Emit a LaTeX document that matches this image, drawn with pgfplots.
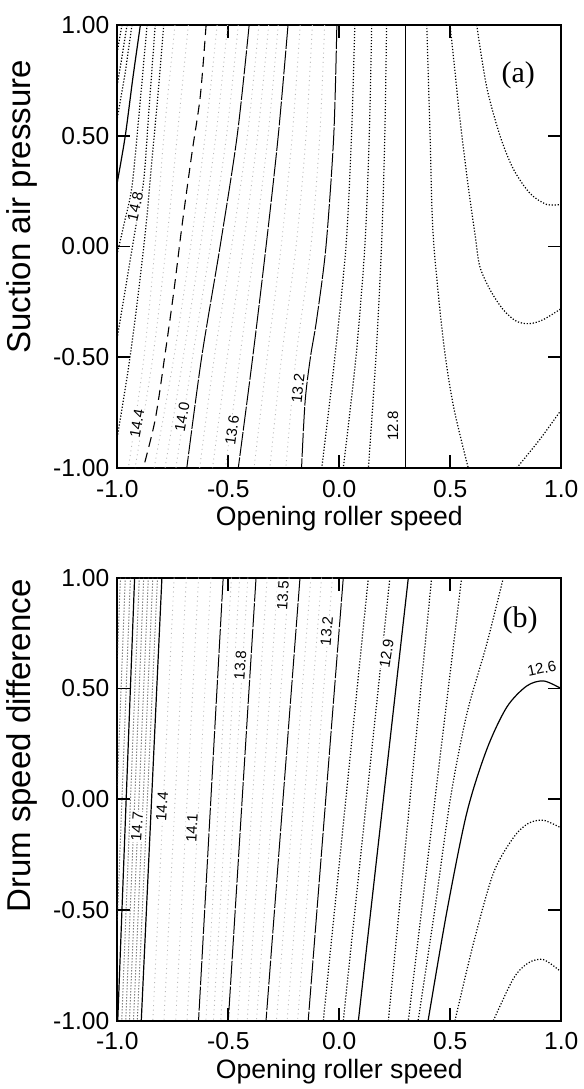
\documentclass[border=0pt]{standalone}
\usepackage{fontspec}
\setmainfont{Liberation Sans}
\newfontfamily\timesfont{Liberation Serif}
\usepackage{pgfplots}
\pgfplotsset{compat=1.18}

\tikzset{
  main/.style={black, line width=0.6pt},
  dmain/.style={black, line width=0.5pt, dash pattern=on 12pt off 0.8pt},
  ldash/.style={black, line width=0.55pt, dash pattern=on 5pt off 3pt},
  minor/.style={black, line width=0.6pt, dash pattern=on 0.6pt off 0.9pt},
  lminor/.style={black!75, line width=0.5pt, dash pattern=on 0.5pt off 1pt},
  faint/.style={gray!55, line width=0.45pt, dash pattern=on 0.5pt off 1.8pt},
  clab/.style={font=\fontsize{7.5}{8}\selectfont, fill=white, inner sep=0.4pt},
}
\pgfplotsset{
  panel/.style={
    scale only axis, width=222pt, height=221.5pt,
    xmin=-1, xmax=1, ymin=-1, ymax=1,
    xtick={-1,-0.5,0,0.5,1}, xticklabels={-1.0,-0.5,0.0,0.5,1.0},
    ytick={-1,-0.5,0,0.5,1}, yticklabels={-1.00,-0.50,0.00,0.50,1.00},
    tick align=inside, major tick length=6.5pt,
    tick style={black, line width=0.9pt},
    axis line style={line width=0.9pt},
    ticklabel style={font=\fontsize{12.3}{14}\selectfont},
    xticklabel style={yshift=-2.5pt},
    yticklabel style={xshift=-0.5pt},
    xlabel={Opening roller speed},
    xlabel style={font=\fontsize{13.3}{15}\selectfont, at={(axis description cs:0.5,0)}, anchor=center, yshift=-25.5pt},
    ylabel style={font=\fontsize{16.5}{18}\selectfont, anchor=center},
    clip=true,
  },
}

\begin{document}
\begin{tikzpicture}
\useasboundingbox (-58.65pt,12.5pt) rectangle (233.35pt,-532pt);

% ---------- (a) ----------
\begin{axis}[panel, at={(0pt,0pt)}, anchor=north west,
  ylabel={Suction air pressure},
  ylabel style={at={(axis description cs:-0.215,0.59)}}]
% top-left group
\addplot[minor] coordinates {(-0.979,1) (-1,0.88)};
\addplot[minor] coordinates {(-0.956,1) (-0.98,0.85) (-1,0.73)};
\addplot[minor] coordinates {(-0.934,1) (-0.965,0.78) (-1,0.58)};
\addplot[main, smooth] coordinates {(-0.896,1) (-0.93,0.76) (-0.964,0.50) (-1,0.29)};
\addplot[minor, smooth] coordinates {(-0.866,1) (-0.90,0.62) (-0.934,0.27) (-0.97,0.10) (-1,-0.03)};
\addplot[minor, smooth] coordinates {(-0.829,1) (-0.855,0.65) (-0.881,0.30) (-0.915,0.10) (-0.945,-0.08) (-0.975,-0.26) (-1,-0.41)};
\addplot[minor, smooth] coordinates {(-0.791,1) (-0.82,0.65) (-0.844,0.39) (-0.87,0.10) (-0.91,-0.25) (-0.95,-0.55) (-1,-0.86)};
\addplot[faint, smooth] coordinates {(-0.74,1) (-0.79,0.5) (-0.83,0.0) (-0.88,-0.5) (-0.95,-1)};
\addplot[faint, smooth] coordinates {(-0.68,1) (-0.73,0.5) (-0.78,0.0) (-0.84,-0.5) (-0.92,-1)};
% 14.4
\addplot[ldash, smooth] coordinates {(-0.600,1) (-0.626,0.68) (-0.664,0.42) (-0.709,0.09) (-0.745,-0.20) (-0.784,-0.48) (-0.829,-0.78) (-0.883,-1)};
\addplot[faint, smooth] coordinates {(-0.550,1) (-0.604,0.5) (-0.670,0) (-0.745,-0.5) (-0.834,-1)};
\addplot[faint, smooth] coordinates {(-0.503,1) (-0.556,0.5) (-0.626,0) (-0.703,-0.5) (-0.785,-1)};
\addplot[faint, smooth] coordinates {(-0.455,1) (-0.508,0.5) (-0.581,0) (-0.661,-0.5) (-0.736,-1)};
% 14.0
\addplot[dmain, smooth] coordinates {(-0.406,1) (-0.46,0.5) (-0.537,0) (-0.62,-0.5) (-0.687,-1)};
\addplot[faint, smooth] coordinates {(-0.362,1) (-0.414,0.5) (-0.485,0) (-0.563,-0.5) (-0.629,-1)};
\addplot[faint, smooth] coordinates {(-0.318,1) (-0.368,0.5) (-0.433,0) (-0.505,-0.5) (-0.571,-1)};
\addplot[faint, smooth] coordinates {(-0.275,1) (-0.321,0.5) (-0.382,0) (-0.448,-0.5) (-0.513,-1)};
% 13.6
\addplot[dmain, smooth] coordinates {(-0.231,1) (-0.275,0.5) (-0.33,0) (-0.39,-0.5) (-0.455,-1)};
\addplot[faint, smooth] coordinates {(-0.176,1) (-0.212,0.5) (-0.262,0) (-0.325,-0.5) (-0.384,-1)};
\addplot[faint, smooth] coordinates {(-0.121,1) (-0.150,0.5) (-0.195,0) (-0.260,-0.5) (-0.313,-1)};
\addplot[faint, smooth] coordinates {(-0.066,1) (-0.088,0.5) (-0.128,0) (-0.195,-0.5) (-0.241,-1)};
% 13.2
\addplot[dmain, smooth] coordinates {(-0.011,1) (-0.025,0.5) (-0.06,0) (-0.102,-0.33) (-0.13,-0.5) (-0.154,-0.70) (-0.17,-1)};
\addplot[minor, smooth] coordinates {(0.07,1) (0.055,0.5) (0.03,0) (-0.02,-0.5) (-0.079,-1)};
\addplot[minor, smooth] coordinates {(0.146,1) (0.135,0.5) (0.115,0) (0.075,-0.5) (0.018,-1)};
\addplot[minor, smooth] coordinates {(0.213,1) (0.205,0.5) (0.19,0) (0.165,-0.5) (0.131,-1)};
% 12.8
\addplot[main] coordinates {(0.297,1) (0.297,-1)};
\addplot[minor, smooth] coordinates {(0.394,1) (0.409,0.5) (0.423,0.05) (0.468,-0.42) (0.514,-0.72) (0.581,-1)};
\addplot[minor, smooth] coordinates {(0.499,1) (0.52,0.8) (0.544,0.57) (0.581,0.27) (0.612,0.05) (0.633,-0.09) (0.679,-0.195) (0.739,-0.286) (0.799,-0.338) (0.859,-0.348) (0.919,-0.33) (1.0,-0.28)};
\addplot[minor, smooth] coordinates {(0.619,1) (0.664,0.72) (0.724,0.50) (0.784,0.35) (0.859,0.24) (0.934,0.19) (1,0.19)};
\addplot[minor, smooth] coordinates {(0.799,-1) (0.904,-0.87) (1,-0.737)};

\node[clab, rotate=77] at (axis cs:-0.919,0.18) {14.8};
\node[clab, rotate=80] at (axis cs:-0.911,-0.80) {14.4};
\node[clab, rotate=80] at (axis cs:-0.708,-0.77) {14.0};
\node[clab, rotate=82] at (axis cs:-0.483,-0.83) {13.6};
\node[clab, rotate=84] at (axis cs:-0.186,-0.64) {13.2};
\node[clab, rotate=90] at (axis cs:0.242,-0.81) {12.8};
\node[font=\timesfont\fontsize{15}{17}\selectfont] at (axis cs:0.806,0.774) {(a)};
\end{axis}

% ---------- (b) ----------
\begin{axis}[panel, at={(0pt,-276.35pt)}, anchor=north west,
  ylabel={Drum speed difference},
  ylabel style={at={(axis description cs:-0.215,0.62)}}]
\addplot[lminor] coordinates {(-0.986,1) (-1,0.63)};
\addplot[lminor] coordinates {(-0.964,1) (-1,0.05)};
\addplot[lminor] coordinates {(-0.941,1) (-1,-0.55)};
\addplot[main] coordinates {(-0.922,1) (-0.998,-1)};
\addplot[lminor] coordinates {(-0.901,1) (-0.980,-1)};
\addplot[lminor] coordinates {(-0.881,1) (-0.962,-1)};
\addplot[lminor] coordinates {(-0.860,1) (-0.945,-1)};
\addplot[lminor] coordinates {(-0.840,1) (-0.927,-1)};
\addplot[lminor] coordinates {(-0.819,1) (-0.910,-1)};
\addplot[main] coordinates {(-0.799,1) (-0.892,-1)};
\addplot[faint] coordinates {(-0.744,1) (-0.840,-1)};
\addplot[faint] coordinates {(-0.689,1) (-0.790,-1)};
\addplot[faint] coordinates {(-0.634,1) (-0.737,-1)};
\addplot[faint] coordinates {(-0.578,1) (-0.686,-1)};
% 14.1
\addplot[dmain] coordinates {(-0.523,1) (-0.634,-1)};
\addplot[faint] coordinates {(-0.486,1) (-0.601,-1)};
\addplot[faint] coordinates {(-0.449,1) (-0.567,-1)};
\addplot[faint] coordinates {(-0.412,1) (-0.534,-1)};
% 13.8
\addplot[dmain] coordinates {(-0.375,1) (-0.50,-1)};
\addplot[faint] coordinates {(-0.325,1) (-0.458,-1)};
\addplot[faint] coordinates {(-0.276,1) (-0.415,-1)};
\addplot[faint] coordinates {(-0.226,1) (-0.373,-1)};
% 13.5
\addplot[dmain] coordinates {(-0.177,1) (-0.33,-1)};
\addplot[faint] coordinates {(-0.128,1) (-0.283,-1)};
\addplot[faint] coordinates {(-0.080,1) (-0.235,-1)};
\addplot[faint] coordinates {(-0.031,1) (-0.188,-1)};
% 13.2
\addplot[dmain] coordinates {(0.018,1) (-0.14,-1)};
\addplot[minor] coordinates {(0.131,1) (-0.072,-1)};
\addplot[minor] coordinates {(0.228,1) (0.018,-1)};
% 12.9
\addplot[main] coordinates {(0.311,1) (0.086,-1)};
\addplot[minor] coordinates {(0.416,1) (0.221,-1)};
\addplot[minor, smooth] coordinates {(0.551,1) (0.431,0) (0.311,-1)};
\addplot[minor, smooth] coordinates {(0.739,1) (0.664,0.70) (0.574,0.383) (0.50,0.0) (0.43,-0.5) (0.355,-1)};
% 12.6
\addplot[main, smooth] coordinates {(0.40,-1) (0.484,-0.51) (0.574,-0.063) (0.664,0.224) (0.754,0.415) (0.844,0.511) (0.919,0.534) (0.994,0.503) (1,0.50)};
\addplot[minor, smooth] coordinates {(0.521,-1) (0.604,-0.652) (0.694,-0.334) (0.784,-0.174) (0.85,-0.11) (0.919,-0.095) (1,-0.13)};
\addplot[minor, smooth] coordinates {(0.694,-1) (0.784,-0.81) (0.85,-0.74) (0.919,-0.724) (1,-0.78)};

\node[clab, rotate=86] at (axis cs:-0.911,-0.124) {14.7};
\node[clab, rotate=86] at (axis cs:-0.799,-0.033) {14.4};
\node[clab, rotate=87] at (axis cs:-0.664,-0.13) {14.1};
\node[clab, rotate=86] at (axis cs:-0.446,0.605) {13.8};
\node[clab, rotate=86] at (axis cs:-0.254,0.918) {13.5};
\node[clab, rotate=85] at (axis cs:-0.057,0.758) {13.2};
\node[clab, rotate=81] at (axis cs:0.213,0.658) {12.9};
\node[clab, rotate=12] at (axis cs:0.912,0.59) {12.6};
\node[font=\timesfont\fontsize{15}{17}\selectfont] at (axis cs:0.814,0.806) {(b)};
\end{axis}
\end{tikzpicture}
\end{document}
